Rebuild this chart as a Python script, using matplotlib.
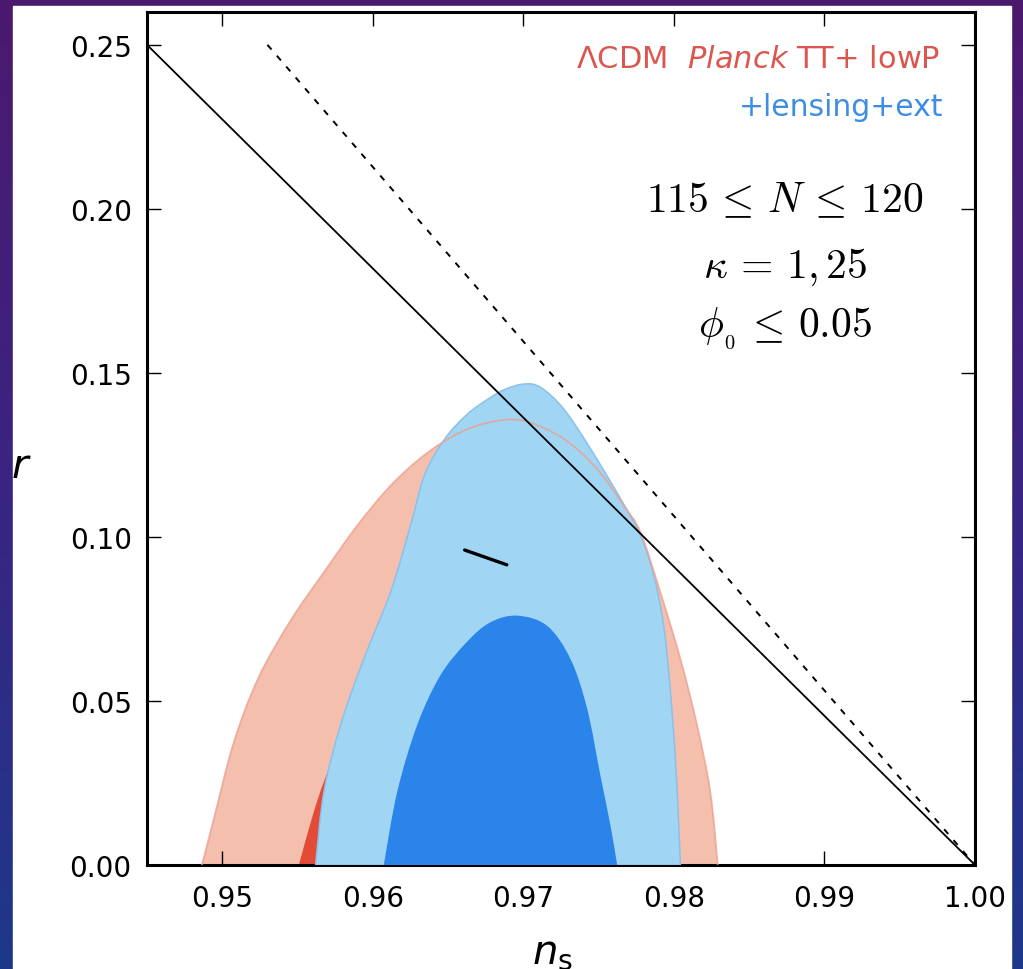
import numpy as np
import matplotlib
matplotlib.use("Agg")
import matplotlib.pyplot as plt
from matplotlib.colors import LinearSegmentedColormap
from matplotlib.patches import Rectangle, PathPatch
from matplotlib.path import Path

# ---------------- data ----------------
xticks = [0.95, 0.96, 0.97, 0.98, 0.99, 1.00]
yticks = [0.00, 0.05, 0.10, 0.15, 0.20, 0.25]
xtick_labels = ["0.95", "0.96", "0.97", "0.98", "0.99", "1.00"]
ytick_labels = ["0.00", "0.05", "0.10", "0.15", "0.20", "0.25"]

# Planck TT+lowP 95% contour (ns, r)
red95_ns = [0.94865, 0.94944, 0.95077, 0.95240, 0.95454, 0.95675, 0.95896, 0.96118,
            0.96339, 0.96560, 0.96782, 0.97003, 0.97268, 0.97490, 0.97667, 0.97778,
            0.97910, 0.98043, 0.98154, 0.98242, 0.98291]
red95_r = [0.0, 0.0140, 0.0374, 0.0570, 0.0745, 0.0892, 0.1034, 0.1156,
           0.1248, 0.1314, 0.1350, 0.1354, 0.1299, 0.1207, 0.1095, 0.1014,
           0.0831, 0.0628, 0.0425, 0.0221, 0.0]

# Planck TT+lowP 68% contour
red68_ns = [0.95509, 0.95600, 0.95686, 0.95850, 0.96050, 0.96350, 0.96700, 0.97000,
            0.97300, 0.97550, 0.97700, 0.97750]
red68_r = [0.0, 0.0150, 0.0267, 0.0450, 0.0600, 0.0720, 0.0780, 0.0770,
           0.0680, 0.0500, 0.0250, 0.0]

# +lensing+ext 95% contour
blue95_ns = [0.95620, 0.95675, 0.95786, 0.95940, 0.96118, 0.96250, 0.96345, 0.96480,
             0.96630, 0.96782, 0.96880, 0.97003, 0.97114, 0.97268, 0.97447, 0.97646,
             0.97778, 0.97866, 0.97932, 0.97977, 0.98010, 0.98032, 0.98043]
blue95_r = [0.0, 0.0223, 0.0427, 0.0628, 0.0832, 0.1034, 0.1190, 0.1300,
            0.1375, 0.1425, 0.1450, 0.1466, 0.1456, 0.1390, 0.1268, 0.1116,
            0.1004, 0.0882, 0.0730, 0.0527, 0.0323, 0.0122, 0.0]

# +lensing+ext 68% contour
blue68_ns = [0.96073, 0.96162, 0.96295, 0.96450, 0.96627, 0.96782, 0.96959, 0.97158,
             0.97313, 0.97424, 0.97512, 0.97578, 0.97623]
blue68_r = [0.0, 0.0223, 0.0427, 0.0579, 0.0681, 0.0740, 0.0760, 0.0729,
            0.0628, 0.0476, 0.0272, 0.0122, 0.0]

# straight lines
solid_ns = [0.945, 1.000]
solid_r = [0.25, 0.0]
dashed_ns = [0.953, 1.000]
dashed_r = [0.25, 0.0]

# model prediction segment
model_ns = [0.9661, 0.9689]
model_r = [0.0960, 0.0915]


def smooth_path(xs, ys, closed=True):
    """Bezier path through the read contour points (Catmull-Rom handles)."""
    p = np.column_stack([xs, ys]).astype(float)
    n = len(p)
    verts = [p[0]]
    codes = [Path.MOVETO]
    for i in range(n - 1):
        p0 = p[i - 1] if i > 0 else p[i]
        p1 = p[i]
        p2 = p[i + 1]
        p3 = p[i + 2] if i + 2 < n else p[i + 1]
        c1 = p1 + (p2 - p0) / 6.0
        c2 = p2 - (p3 - p1) / 6.0
        verts += [c1, c2, p2]
        codes += [Path.CURVE4] * 3
    if closed:
        verts.append(p[0])
        codes.append(Path.CLOSEPOLY)
    return Path(verts, codes)


# ---------------- figure ----------------
W, H = 1023, 970
fig = plt.figure(figsize=(W / 100, H / 100), dpi=100)

# slide background (gradient) and white picture area
bg = fig.add_axes([0, 0, 1, 1], zorder=-10)
cmap_bg = LinearSegmentedColormap.from_list("bg", ["#1d388b", "#3a2482", "#4b196e"])
grad = np.linspace(0, 1, 256).reshape(-1, 1)
bg.imshow(grad, cmap=cmap_bg, aspect="auto", extent=[0, 1, 0, 1], origin="lower")
bg.add_patch(Rectangle((13 / W, 0), (1011 - 13) / W, (H - 7) / H, color="white", zorder=2))
bg.set_xlim(0, 1)
bg.set_ylim(0, 1)
bg.axis("off")

ax = fig.add_axes([147 / W, (H - 866) / H, (975 - 147) / W, (866 - 13) / H])
ax.set_facecolor("white")

c_red_light = "#f5bfad"
c_red_dark = "#e34b36"
c_blue_light = "#a0d6f4"
c_blue_dark = "#2a84ea"

ax.add_patch(PathPatch(smooth_path(red95_ns, red95_r), facecolor=c_red_light, lw=0, zorder=1))
ax.add_patch(PathPatch(smooth_path(red68_ns, red68_r), facecolor=c_red_dark, lw=0, zorder=2))
ax.add_patch(PathPatch(smooth_path(blue95_ns, blue95_r), facecolor=c_blue_light,
                       edgecolor="#8cc0ea", lw=1.1, zorder=3))
ax.add_patch(PathPatch(smooth_path(blue68_ns, blue68_r), facecolor=c_blue_dark, lw=0, zorder=4))
ax.add_patch(PathPatch(smooth_path(red95_ns, red95_r, closed=False), fill=False,
                       edgecolor="#eda08f", lw=1.3, alpha=0.8, zorder=4.5))

ax.plot(solid_ns, solid_r, color="black", lw=1.3, zorder=5)
ax.plot(dashed_ns, dashed_r, color="black", lw=1.4, dashes=[3.2, 4.2], zorder=5)
ax.plot(model_ns, model_r, color="black", lw=2.4, solid_capstyle="round", zorder=6)

ax.set_xlim(0.945, 1.0)
ax.set_ylim(0.0, 0.26)
ax.set_xticks(xticks)
ax.set_xticklabels(xtick_labels)
ax.set_yticks(yticks)
ax.set_yticklabels(ytick_labels)
ax.tick_params(axis="both", which="major", direction="in", length=10, width=1.0,
               top=True, right=True, labelsize=20, colors="black")
ax.tick_params(axis="x", pad=14)
ax.tick_params(axis="y", pad=11)
for sp in ax.spines.values():
    sp.set_linewidth(2.2)

ax.set_xlabel(r"$n_{\rm s}$", fontsize=29, math_fontfamily="dejavusans", va="baseline")
ax.xaxis.set_label_coords(0.49, (866 - 963) / 853)
ax.set_ylabel(r"$r$", fontsize=29, math_fontfamily="dejavusans", rotation=0,
              ha="center", va="baseline")
ax.yaxis.set_label_coords((21 - 147) / 828, (866 - 478) / 853)

# legend texts
ax.text(0.958, 0.946, r"$\Lambda$CDM  $\it{Planck}$ TT+ lowP", transform=ax.transAxes,
        ha="right", va="center", fontsize=22, color="#dc5650", math_fontfamily="dejavusans")
ax.text(0.962, 0.889, "+lensing+ext", transform=ax.transAxes,
        ha="right", va="center", fontsize=21.5, color="#3d8ee0")

# annotations
ann_x = (785 - 147) / 828
ax.text(ann_x, 0.781, r"$115 \,\leq\, N \,\leq\, 120$", transform=ax.transAxes,
        ha="center", va="center", fontsize=30, math_fontfamily="cm")
ax.text(ann_x, 0.702, r"$\kappa \,=\, 1,25$", transform=ax.transAxes,
        ha="center", va="center", fontsize=30, math_fontfamily="cm")
ax.text(ann_x, 0.630, r"$\phi_{_0} \,\leq\, 0.05$", transform=ax.transAxes,
        ha="center", va="center", fontsize=30, math_fontfamily="cm")

fig.savefig("out.png", dpi=100)
